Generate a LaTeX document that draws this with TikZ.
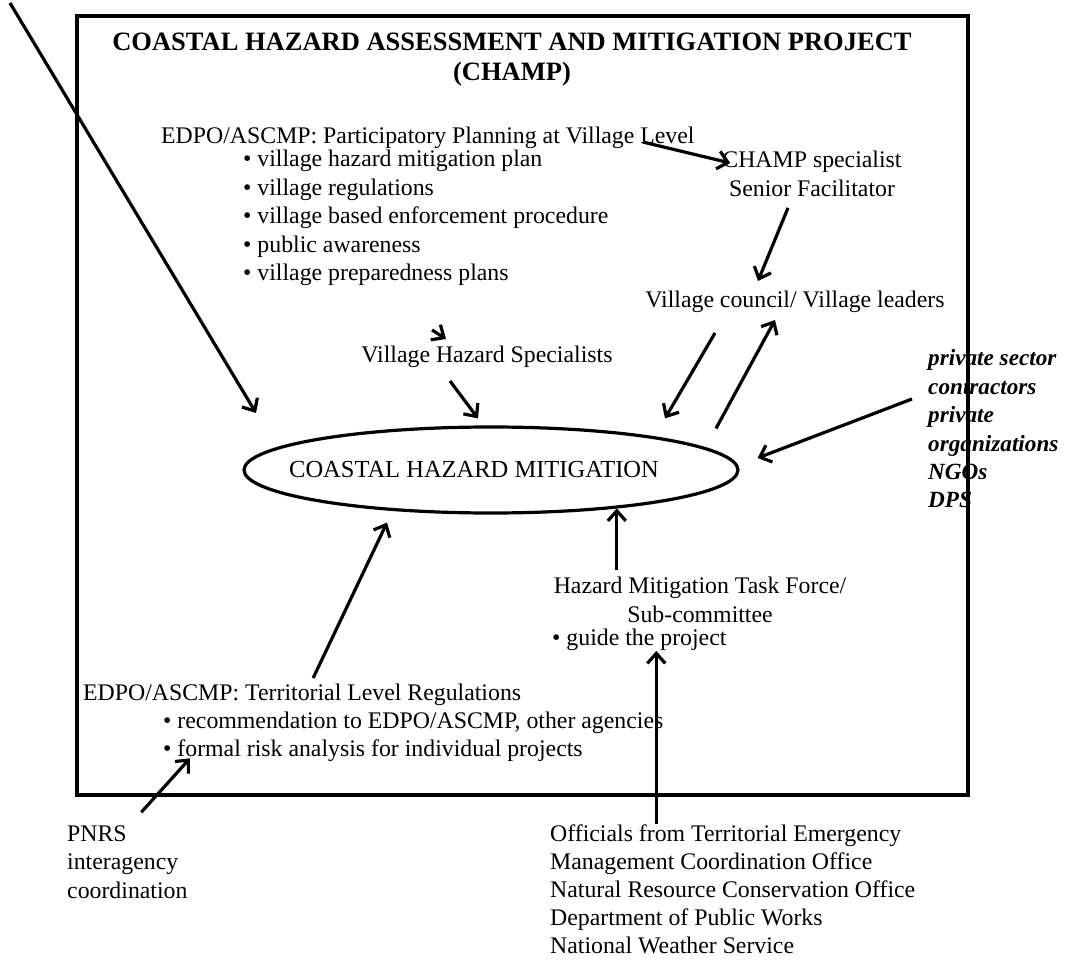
\documentclass[tikz,border=0pt]{standalone}
\usepackage{fontspec}
\setmainfont{Liberation Serif}
\usetikzlibrary{arrows.meta,shapes.geometric}

\begin{document}
\begin{tikzpicture}[x=1pt,y=-1pt,
        txt/.style={inner sep=0pt, font=\fontsize{23.8}{28.6}\selectfont},
        lst/.style={txt, align=left, anchor=west},
        arr/.style={line width=3.2pt, -{Straight Barb[length=10pt,width=18pt]}}]
        \useasboundingbox (0,0) rectangle (1074,960);

        % --- Title ---
        \node[txt, font=\fontsize{26.5}{30}\selectfont\bfseries, align=center] (title) at (512,60)
            {COASTAL HAZARD ASSESSMENT AND MITIGATION PROJECT\\(CHAMP)};

        % --- Village level planning ---
        \node[txt, anchor=west] (ppv) at (161,138) {EDPO/ASCMP: Participatory Planning at Village Level};
        \node[lst] (ppvlist) at (243,218) {\textbullet{} village hazard mitigation plan\\
            \textbullet{} village regulations\\
            \textbullet{} village based enforcement procedure\\
            \textbullet{} public awareness\\
            \textbullet{} village preparedness plans};
        \node[txt, align=center] (champ) at (812,174) {CHAMP specialist\\Senior Facilitator};
        \node[txt] (council) at (795,302) {Village council/ Village leaders};
        \node[txt] (vhs) at (487,357) {Village Hazard Specialists};

        % --- Centre ---
        \node[draw, ellipse, line width=3.2pt, minimum width=494pt, minimum height=86pt,
            inner sep=0pt, font=\fontsize{24.5}{28.6}\selectfont] (chm) at (491,470)
            {\hspace*{-34pt}COASTAL HAZARD MITIGATION};

        % --- Right side ---
        \node[lst, font=\fontsize{23.2}{28.4}\selectfont\bfseries\itshape] (priv) at (928,429)
            {private sector\\contractors\\private\\organizations\\NGOs\\DPS};

        % --- Task force ---
        \node[txt, align=center] (hmtf) at (700,600) {Hazard Mitigation Task Force/\\Sub-committee};
        \node[txt, anchor=west] (guide) at (552,640) {\textbullet{} guide the project};

        % --- Territorial level ---
        \node[txt, anchor=west] (tlr) at (83,695) {EDPO/ASCMP: Territorial Level Regulations};
        \node[lst] (tlrlist) at (163,737) {\textbullet{} recommendation to EDPO/ASCMP, other agencies\\
            \textbullet{} formal risk analysis for individual projects};

        % --- Outside the box ---
        \node[lst] (pnrs) at (67,862) {PNRS\\interagency\\coordination};
        \node[lst, font=\fontsize{23.8}{28.1}\selectfont] (officials) at (550,889) {Officials from Territorial Emergency\\
            Management Coordination Office\\
            Natural Resource Conservation Office\\
            Department of Public Works\\
            National Weather Service};

        % Frame
        \draw[line width=3.2pt] (77,16) rectangle (968,795);

        % --- Arrows ---
        \coordinate (topleft) at (10,3);
        \coordinate (ctip) at (256,413);
        \draw[arr] (topleft) -- (ctip);
        \draw[arr] ([xshift=-52pt,yshift=-4pt]ppv.east) -- ([xshift=8pt,yshift=11pt]champ.west);
        \draw[arr] ([xshift=-24pt,yshift=-11pt]champ.south) -- ([xshift=-37pt,yshift=10pt]council.north);
        \draw[arr] ([xshift=-80pt,yshift=-20pt]council.south) -- ([xshift=174pt,yshift=7pt]chm.north);
        \draw[arr] ([xshift=225pt,yshift=-3pt]chm.north) -- ([xshift=-20pt,yshift=-7pt]council.south);
        \draw[arr] ([xshift=-55pt,yshift=16pt]vhs.north) -- ([xshift=-41pt,yshift=7pt]vhs.north);
        \draw[arr] ([xshift=-37pt,yshift=-13pt]vhs.south) -- ([xshift=-13pt,yshift=7pt]chm.north);
        \draw[arr] ([xshift=-16pt,yshift=30pt]priv.west) -- ([xshift=18pt,yshift=12pt]chm.east);
        \draw[arr, shorten <=7pt] (chm.-17 |- hmtf.north) -- (chm.-17);
        \draw[arr] ([xshift=11pt,yshift=6pt]tlr.north) -- ([xshift=-104pt,yshift=-8pt]chm.south);
        \coordinate (gtip) at ([xshift=17pt]guide.south);
        \draw[arr] (gtip |- officials.north) -- (gtip);
        \draw[arr] ([xshift=14pt,yshift=13pt]pnrs.north) -- ([xshift=27pt,yshift=4pt]tlrlist.south west);
    \end{tikzpicture}
\end{document}
